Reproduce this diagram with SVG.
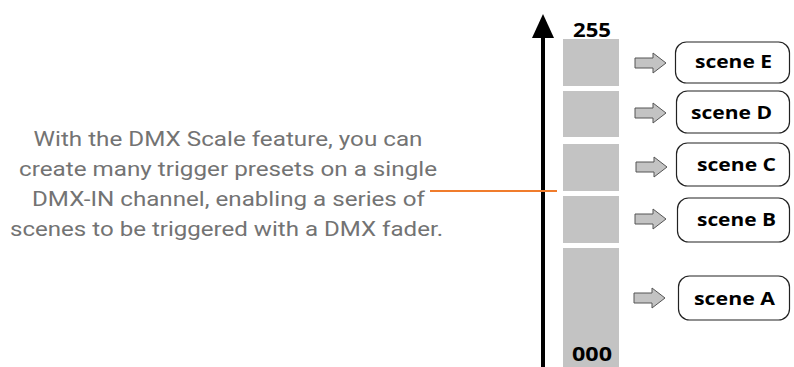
<svg xmlns="http://www.w3.org/2000/svg" width="794" height="367" viewBox="0 0 794 367">
<style>
.bar{fill:#c3c3c3}
.box{fill:#fff;stroke:#222;stroke-width:1.2}
.lbl{font-family:"Open Sans","DejaVu Sans",sans-serif;font-weight:bold;font-size:18.5px;fill:#000;text-anchor:middle}
.num{font-family:"Open Sans","DejaVu Sans",sans-serif;font-weight:bold;font-size:20px;fill:#000;text-anchor:middle}
.desc{font-family:Roboto,"Liberation Sans",sans-serif;font-size:20px;fill:#737373;text-anchor:middle}
.barrow{fill:#c3c3c3;stroke:#555;stroke-width:1}
</style>
<defs>
<path id="ba" d="M0,-5 H18 V-10 L31,0 L18,10 V5 H0 Z"/>
</defs>
<g id="description">
<text class="desc" x="228" y="146" textLength="389" lengthAdjust="spacingAndGlyphs">With the DMX Scale feature, you can</text>
<text class="desc" x="228" y="176" textLength="418" lengthAdjust="spacingAndGlyphs">create many trigger presets on a single</text>
<text class="desc" x="228.5" y="206" textLength="393" lengthAdjust="spacingAndGlyphs">DMX-IN channel, enabling a series of</text>
<text class="desc" x="226.5" y="236" textLength="433" lengthAdjust="spacingAndGlyphs">scenes to be triggered with a DMX fader.</text>
</g>
<g id="scale">
<rect class="bar" x="563" y="39" width="56" height="47"/>
<rect class="bar" x="563" y="91" width="56" height="46"/>
<rect class="bar" x="563" y="144" width="56" height="47"/>
<rect class="bar" x="563" y="196" width="56" height="47"/>
<rect class="bar" x="563" y="248" width="56" height="119"/>
<text class="num" x="592" y="37" textLength="38" lengthAdjust="spacingAndGlyphs">255</text>
<text class="num" x="592" y="361" textLength="40" lengthAdjust="spacingAndGlyphs">000</text>
</g>
<g id="connectors">
<line x1="543" y1="32" x2="543" y2="367" stroke="#000" stroke-width="4"/>
<polygon points="543,14 532,38 554,38" fill="#000"/>
<line x1="430" y1="191" x2="557" y2="191" stroke="#f07c2c" stroke-width="2"/>
<use href="#ba" class="barrow" x="635" y="63"/>
<use href="#ba" class="barrow" x="635" y="113"/>
<use href="#ba" class="barrow" x="636" y="167"/>
<use href="#ba" class="barrow" x="635" y="219"/>
<use href="#ba" class="barrow" x="634" y="298"/>
</g>
<g id="sceneE"><rect class="box" x="675.5" y="42" width="114" height="41" rx="11"/><text class="lbl" x="733.5" y="68" textLength="77" lengthAdjust="spacingAndGlyphs">scene E</text></g>
<g id="sceneD"><rect class="box" x="676.5" y="91" width="113" height="42" rx="11"/><text class="lbl" x="731.5" y="119" textLength="81" lengthAdjust="spacingAndGlyphs">scene D</text></g>
<g id="sceneC"><rect class="box" x="676.5" y="143" width="113" height="43" rx="11"/><text class="lbl" x="736.5" y="171" textLength="79" lengthAdjust="spacingAndGlyphs">scene C</text></g>
<g id="sceneB"><rect class="box" x="677.5" y="198" width="112" height="44" rx="11"/><text class="lbl" x="736.5" y="226" textLength="79" lengthAdjust="spacingAndGlyphs">scene B</text></g>
<g id="sceneA"><rect class="box" x="678.5" y="276" width="111" height="44" rx="11"/><text class="lbl" x="734.5" y="305" textLength="81" lengthAdjust="spacingAndGlyphs">scene A</text></g>
</svg>
